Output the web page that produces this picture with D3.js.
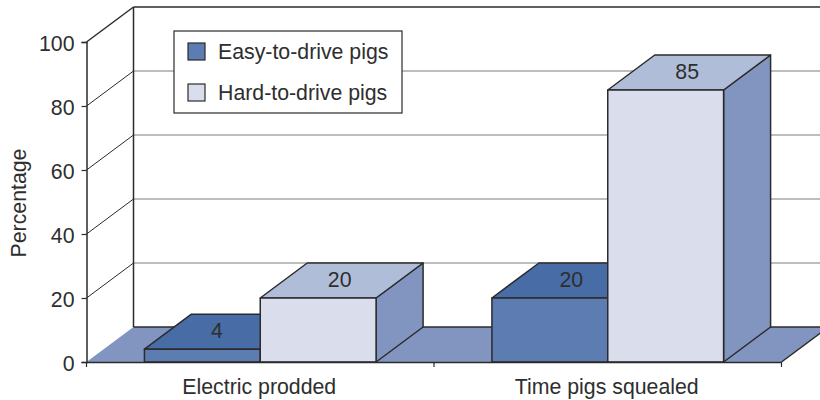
<!DOCTYPE html>
<html>
<head>
<meta charset="utf-8">
<script src="https://cdn.jsdelivr.net/npm/d3@7"></script>
<style>
    html, body { margin: 0; padding: 0; background: #fff; }
    text { font-family: "Liberation Sans", sans-serif; fill: #2e2e2e; }
</style>
</head>
<body>
<svg id="chart" width="820" height="400"></svg>
<script>
const categories = ["Electric prodded", "Time pigs squealed"];
const seriesNames = ["Easy-to-drive pigs", "Hard-to-drive pigs"];
const easyValues = [4, 20];
const hardValues = [20, 85];
const yTicks = [0, 20, 40, 60, 80, 100];

const colors = {
    easy: { front: "#5c7cb2", top: "#486ca6", side: "#8295c0" },
    hard: { front: "#dadeec", top: "#b0bdd9", side: "#8295c0" }
};
const floorColor = "#8295c0";
const lineColor = "#2b2b2b";
const gridColor = "#7d7d7d";
const fontSize = "21.3px";

const width = 820;
const depthX = 47;
const depthY = -35;

const svg = d3.select("#chart");

const x = d3.scaleBand()
    .domain(categories)
    .range([86.5, 781.5])
    .paddingInner(1 / 3)
    .paddingOuter(1 / 6);

const xInner = d3.scaleBand()
    .domain(["easy", "hard"])
    .range([0, x.bandwidth()]);

const y = d3.scaleLinear()
    .domain([0, 100])
    .range([362, 42]);

// Back wall gridlines, and the slanted lines on the left wall
svg.append("g")
    .selectAll("line")
    .data(yTicks.filter(d => d > 0 && d < 100))
    .enter()
    .append("line")
    .attr("x1", x.range()[0] + depthX)
    .attr("x2", width)
    .attr("y1", d => y(d) + depthY)
    .attr("y2", d => y(d) + depthY)
    .attr("stroke", gridColor)
    .attr("stroke-width", 1.2);

svg.append("g")
    .selectAll("line")
    .data(yTicks.filter(d => d > 0))
    .enter()
    .append("line")
    .attr("x1", x.range()[0])
    .attr("x2", x.range()[0] + depthX)
    .attr("y1", d => y(d))
    .attr("y2", d => y(d) + depthY)
    .attr("stroke", lineColor)
    .attr("stroke-width", d => d === 100 ? 1.5 : 1);

// top edge and left edge of the back wall
svg.append("line")
    .attr("x1", x.range()[0] + depthX)
    .attr("x2", width)
    .attr("y1", y(100) + depthY)
    .attr("y2", y(100) + depthY)
    .attr("stroke", lineColor)
    .attr("stroke-width", 1.5);

svg.append("line")
    .attr("x1", x.range()[0] + depthX)
    .attr("x2", x.range()[0] + depthX)
    .attr("y1", y(100) + depthY)
    .attr("y2", y(0) + depthY)
    .attr("stroke", lineColor)
    .attr("stroke-width", 1.5);

// Floor
const x0 = x.range()[0];
const x1 = x.range()[1];
svg.append("path")
    .attr("d", `M${x0},${y(0)}L${x0 + depthX},${y(0) + depthY}L${x1 + depthX},${y(0) + depthY}L${x1},${y(0)}Z`)
    .attr("fill", floorColor);

svg.append("line")
    .attr("x1", x0 + depthX)
    .attr("x2", width)
    .attr("y1", y(0) + depthY)
    .attr("y2", y(0) + depthY)
    .attr("stroke", lineColor)
    .attr("stroke-width", 1.5);

svg.append("line")
    .attr("x1", x1)
    .attr("x2", x1 + depthX)
    .attr("y1", y(0))
    .attr("y2", y(0) + depthY)
    .attr("stroke", lineColor)
    .attr("stroke-width", 1.5);

// Bars, easy first since the hard ones sit over them
function drawBars(values, key) {
    const barW = xInner.bandwidth();
    const g = svg.append("g")
        .selectAll("g")
        .data(categories.map((c, i) => ({ category: c, value: values[i] })))
        .enter()
        .append("g")
        .attr("stroke", lineColor)
        .attr("stroke-width", 1.5)
        .attr("stroke-linejoin", "round");

    const left = d => x(d.category) + xInner(key);

    g.append("path")
        .attr("fill", colors[key].side)
        .attr("d", d => {
            const r = left(d) + barW;
            return `M${r},${y(0)}L${r},${y(d.value)}L${r + depthX},${y(d.value) + depthY}L${r + depthX},${y(0) + depthY}Z`;
        });

    g.append("path")
        .attr("fill", colors[key].top)
        .attr("d", d => {
            const l = left(d);
            const t = y(d.value);
            return `M${l},${t}L${l + depthX},${t + depthY}L${l + barW + depthX},${t + depthY}L${l + barW},${t}Z`;
        });

    g.append("rect")
        .attr("x", left)
        .attr("y", d => y(d.value))
        .attr("width", barW)
        .attr("height", d => y(0) - y(d.value))
        .attr("fill", colors[key].front);

    return left;
}

function drawLabels(values, left) {
    svg.append("g")
        .selectAll("text")
        .data(categories.map((c, i) => ({ category: c, value: values[i] })))
        .enter()
        .append("text")
        .attr("x", d => left(d) + xInner.bandwidth() / 2 + depthX / 2 - (d.value < 10 ? 9 : 2))
        .attr("y", d => y(d.value) + depthY / 2 + 6.5)
        .attr("text-anchor", "middle")
        .style("font-size", fontSize)
        .text(d => d.value);
}

const leftEasy = drawBars(easyValues, "easy");
const leftHard = drawBars(hardValues, "hard");
drawLabels(easyValues, leftEasy);
drawLabels(hardValues, leftHard);

// Axes
const yAxis = svg.append("g")
    .attr("transform", `translate(${x0},0)`)
    .call(d3.axisLeft(y).tickValues(yTicks).tickSize(5).tickPadding(7));
yAxis.select(".domain").attr("stroke", lineColor).attr("stroke-width", 1.5);
yAxis.selectAll(".tick line").attr("stroke", lineColor).attr("stroke-width", 1.2);
yAxis.selectAll("text")
    .style("font-size", fontSize)
    .attr("y", 1.5)
    .attr("fill", null);

const xAxis = svg.append("g")
    .attr("transform", `translate(0,${y(0)})`)
    .call(d3.axisBottom(x).tickSize(0).tickPadding(17));
xAxis.select(".domain").attr("stroke", lineColor).attr("stroke-width", 1.5);
xAxis.selectAll("text")
    .style("font-size", fontSize)
    .attr("dx", -1)
    .attr("fill", null);

// tick marks go on the category boundaries, not the centres
xAxis.selectAll(".boundary")
    .data(d3.range(categories.length + 1))
    .enter()
    .append("line")
    .attr("class", "boundary")
    .attr("x1", i => x0 + i * x.step())
    .attr("x2", i => x0 + i * x.step())
    .attr("y1", 0)
    .attr("y2", 5)
    .attr("stroke", lineColor)
    .attr("stroke-width", 1.2);

svg.append("text")
    .attr("transform", "translate(26,203) rotate(-90)")
    .attr("text-anchor", "middle")
    .style("font-size", fontSize)
    .text("Percentage");

// Legend
const legend = svg.append("g").attr("transform", "translate(174,31)");

legend.append("rect")
    .attr("width", 228)
    .attr("height", 82)
    .attr("fill", "#fff")
    .attr("stroke", lineColor)
    .attr("stroke-width", 1.2);

const legendRows = legend.selectAll("g")
    .data(seriesNames)
    .enter()
    .append("g")
    .attr("transform", (d, i) => `translate(14,${12 + i * 41})`);

legendRows.append("rect")
    .attr("width", 17)
    .attr("height", 17)
    .attr("fill", (d, i) => i === 0 ? colors.easy.front : colors.hard.front)
    .attr("stroke", lineColor)
    .attr("stroke-width", 1.2);

legendRows.append("text")
    .attr("x", 30)
    .attr("y", 16)
    .style("font-size", fontSize)
    .text(d => d);
</script>
</body>
</html>
